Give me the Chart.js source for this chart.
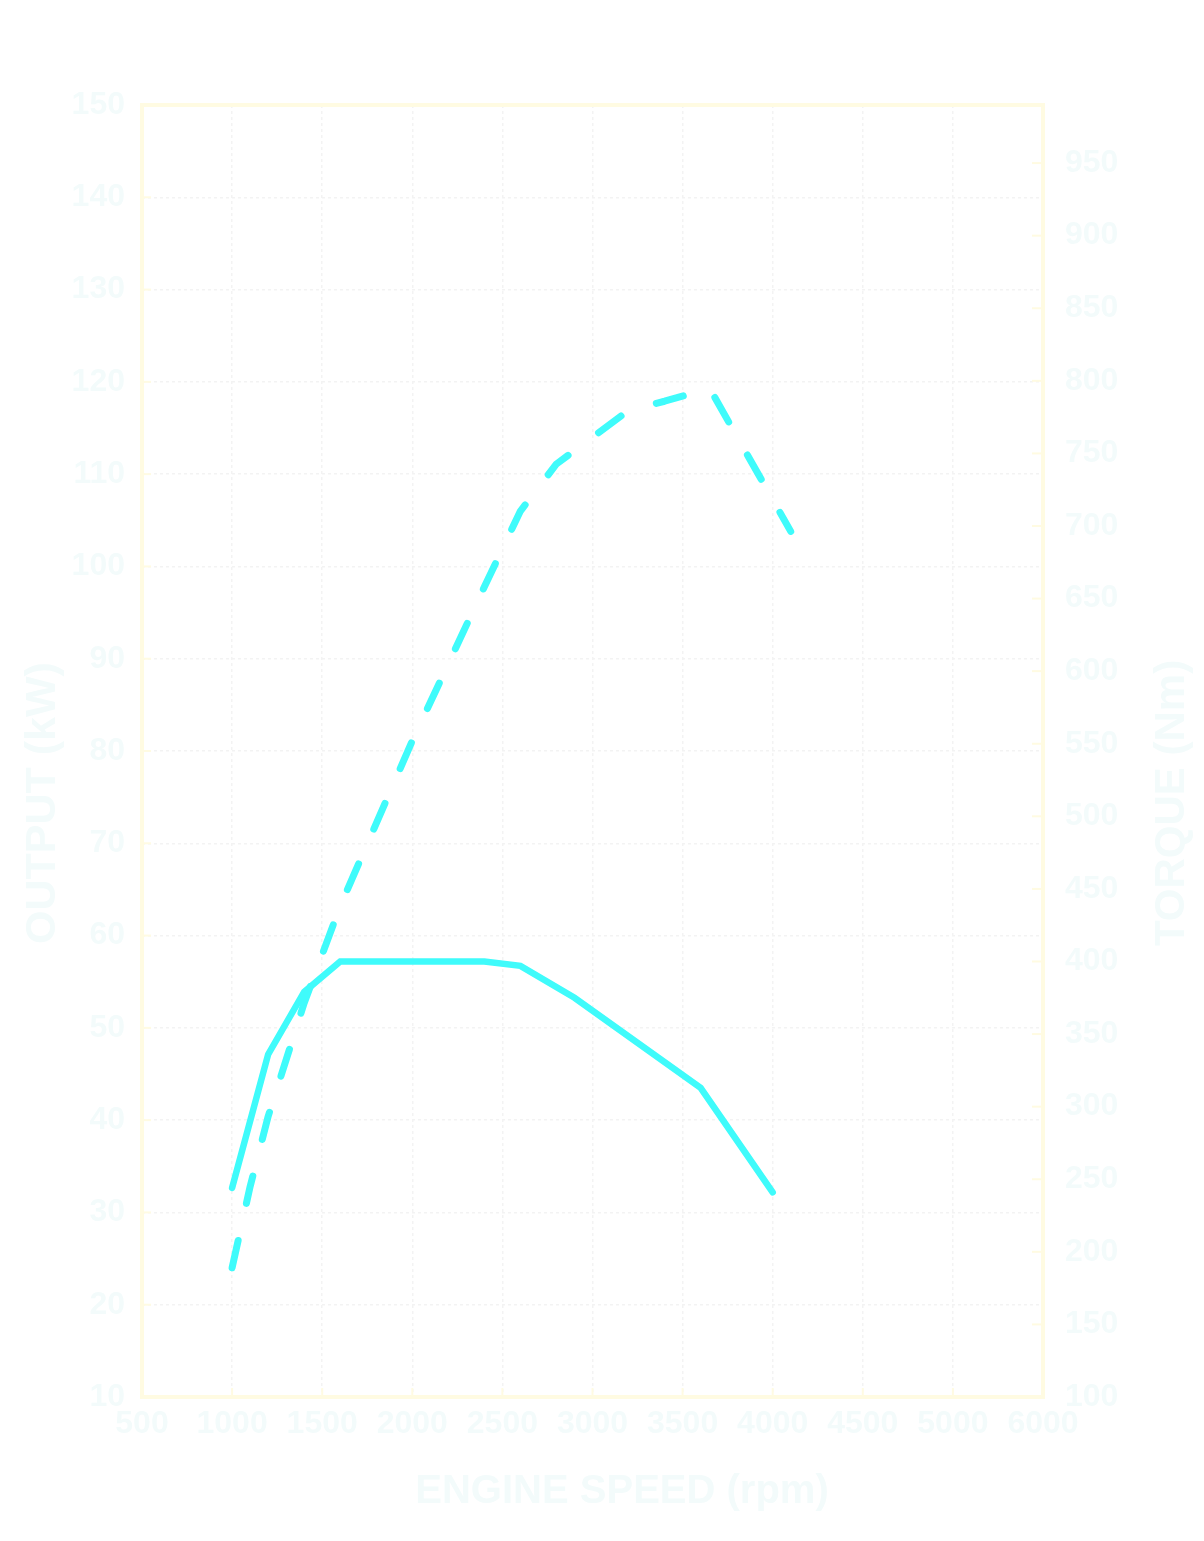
<!DOCTYPE html>
<html>
<head>
<meta charset="utf-8">
<script src="https://cdn.jsdelivr.net/npm/chart.js@4.4.0/dist/chart.umd.min.js"></script>
<style>
  html, body { margin: 0; padding: 0; background: #ffffff; }
  #wrap { width: 1204px; height: 1541px; }
</style>
</head>
<body>
<div id="wrap"><canvas id="engine-chart" width="1204" height="1541"></canvas></div>
<script>
// Chart data
var outputRpm = [1000, 1100, 1200, 1400, 1600, 2000, 2400, 2600, 2800, 3000, 3200, 3400, 3650, 4100];
var outputKw = [24.0, 32.8, 40.4, 52.7, 63.2, 81.1, 97.8, 106.0, 111.1, 114.0, 116.9, 117.9, 119.3, 103.8];

var torqueRpm = [1000, 1200, 1400, 1600, 2400, 2600, 2900, 3600, 4000];
var torqueNm = [244, 336, 379, 400, 400, 397, 375, 313, 241];

// x tick labels as printed on the original (last one reads 6000)
var rpmLabels = ['500', '1000', '1500', '2000', '2500', '3000', '3500', '4000', '4500', '5000', '6000'];

var rpmTicks = { min: 500, max: 5500, step: 500 };
var kwTicks = { min: 10, max: 150, step: 10 };
var nmTicks = { min: 100, max: 990, step: 50 };

var textColor = '#f3fbfb';
var frameColor = '#fffbe2';
var gridColor = '#f3f3f3';
var lineColor = '#3ffbfb';

function toPoints(xs, ys) {
  var pts = [];
  for (var i = 0; i < xs.length; i++) {
    pts.push({ x: xs[i], y: ys[i] });
  }
  return pts;
}

function plainLabel(value) {
  return String(value);
}

function rpmLabel(value, index) {
  return rpmLabels[index] !== undefined ? rpmLabels[index] : String(value);
}

// frame, inner tick marks and axis titles
var framePlugin = {
  id: 'frame',
  beforeDatasetsDraw: function (chart) {
    var ctx = chart.ctx;
    var a = chart.chartArea;
    ctx.save();
    ctx.strokeStyle = frameColor;
    ctx.lineWidth = 2;
    var left = chart.scales.y;
    left.ticks.forEach(function (t) {
      var py = left.getPixelForValue(t.value);
      ctx.beginPath(); ctx.moveTo(a.left, py); ctx.lineTo(a.left + 9, py); ctx.stroke();
    });
    var right = chart.scales.y1;
    right.ticks.forEach(function (t) {
      var py = right.getPixelForValue(t.value);
      ctx.beginPath(); ctx.moveTo(a.right, py); ctx.lineTo(a.right - 11, py); ctx.stroke();
    });
    var bottom = chart.scales.x;
    bottom.ticks.forEach(function (t) {
      var px = bottom.getPixelForValue(t.value);
      ctx.beginPath(); ctx.moveTo(px, a.bottom); ctx.lineTo(px, a.bottom - 9); ctx.stroke();
    });
    ctx.lineWidth = 4;
    ctx.strokeRect(a.left, a.top, a.right - a.left, a.bottom - a.top);
    ctx.restore();
  },
  afterDraw: function (chart) {
    var ctx = chart.ctx;
    ctx.save();
    ctx.fillStyle = textColor;
    ctx.textAlign = 'center';
    ctx.textBaseline = 'middle';
    ctx.font = 'bold 40px "Liberation Sans", Arial, sans-serif';
    ctx.fillText('ENGINE SPEED (rpm)', 622, 1492);

    ctx.font = 'bold 43px "Liberation Sans", Arial, sans-serif';
    ctx.translate(43, 803);
    ctx.rotate(-Math.PI / 2);
    ctx.fillText('OUTPUT (kW)', 0, 0);
    ctx.restore();

    ctx.save();
    ctx.fillStyle = textColor;
    ctx.textAlign = 'center';
    ctx.textBaseline = 'middle';
    ctx.font = 'bold 42px "Liberation Sans", Arial, sans-serif';
    ctx.translate(1172, 803);
    ctx.rotate(-Math.PI / 2);
    ctx.fillText('TORQUE (Nm)', 0, 0);
    ctx.restore();
  }
};

var tickFont = { family: '"Liberation Sans", Arial, sans-serif', size: 32, weight: 'bold' };

var chartConfig = {
  type: 'line',
  data: {
    datasets: [
      {
        label: 'Output',
        data: toPoints(outputRpm, outputKw),
        yAxisID: 'y',
        borderColor: lineColor,
        borderWidth: 7,
        borderDash: [28, 38],
        borderCapStyle: 'round',
        borderJoinStyle: 'round',
        pointRadius: 0,
        tension: 0,
        fill: false
      },
      {
        label: 'Torque',
        data: toPoints(torqueRpm, torqueNm),
        yAxisID: 'y1',
        borderColor: lineColor,
        borderWidth: 6.5,
        borderCapStyle: 'round',
        borderJoinStyle: 'miter',
        pointRadius: 0,
        tension: 0,
        fill: false
      }
    ]
  },
  options: {
    responsive: false,
    animation: false,
    devicePixelRatio: 1,
    layout: { padding: { top: 105, left: 0, right: 0, bottom: 0 } },
    plugins: {
      legend: { display: false },
      tooltip: { enabled: false }
    },
    scales: {
      x: {
        type: 'linear',
        min: rpmTicks.min,
        max: rpmTicks.max,
        afterFit: function (s) { s.height = 144; },
        border: { display: false, dash: [3, 3] },
        grid: { color: gridColor, lineWidth: 1.5, drawTicks: false },
        ticks: { stepSize: rpmTicks.step, color: textColor, font: tickFont, padding: 8, maxRotation: 0, callback: rpmLabel }
      },
      y: {
        position: 'left',
        min: kwTicks.min,
        max: kwTicks.max,
        afterFit: function (s) { s.width = 142; },
        border: { display: false, dash: [3, 3] },
        grid: { color: gridColor, lineWidth: 1.5, drawTicks: false },
        ticks: { stepSize: kwTicks.step, color: textColor, font: tickFont, padding: 17, callback: plainLabel }
      },
      y1: {
        position: 'right',
        min: nmTicks.min,
        max: nmTicks.max,
        afterFit: function (s) { s.width = 161; },
        border: { display: false },
        grid: { display: false, drawTicks: false },
        ticks: { stepSize: nmTicks.step, includeBounds: false, color: textColor, font: tickFont, padding: 22, callback: plainLabel }
      }
    }
  },
  plugins: [framePlugin]
};

var engineChart = new Chart(document.getElementById('engine-chart'), chartConfig);
</script>
</body>
</html>
